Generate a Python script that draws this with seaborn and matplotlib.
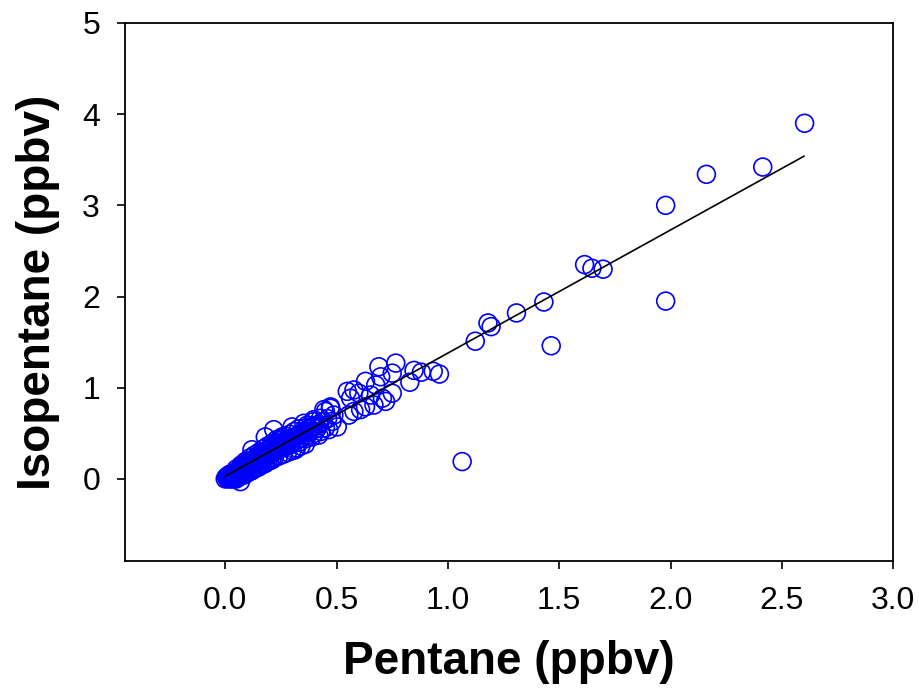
import matplotlib
matplotlib.use("Agg")
import matplotlib.pyplot as plt
import seaborn as sns
import numpy as np
import pandas as pd

# ---- data ----
pentane = [
    0.00, 0.005, 0.01, 0.01, 0.015, 0.02, 0.02, 0.025, 0.03, 0.03, 0.035, 0.04, 0.04, 0.045,
    0.05, 0.05, 0.055, 0.06, 0.06, 0.065, 0.068, 0.07, 0.07, 0.075, 0.08, 0.08, 0.085, 0.09,
    0.09, 0.095, 0.10, 0.10, 0.105, 0.11, 0.11, 0.115, 0.12, 0.12, 0.125, 0.13, 0.13, 0.135,
    0.14, 0.14, 0.145, 0.15, 0.15, 0.155, 0.16, 0.16, 0.165, 0.17, 0.17, 0.175, 0.18, 0.18,
    0.185, 0.19, 0.19, 0.20, 0.20, 0.205, 0.21, 0.21, 0.218, 0.22, 0.22, 0.225, 0.23, 0.23,
    0.235, 0.24, 0.24, 0.245, 0.25, 0.255, 0.26, 0.26, 0.27, 0.27, 0.28, 0.28, 0.29, 0.29,
    0.30, 0.30, 0.31, 0.315, 0.32, 0.33, 0.33, 0.34, 0.35, 0.353, 0.353, 0.36, 0.368, 0.37,
    0.38, 0.39, 0.398, 0.398, 0.40, 0.41, 0.413, 0.42, 0.428, 0.43, 0.443, 0.45, 0.45, 0.465,
    0.473, 0.473, 0.48, 0.488, 0.503,
    0.03, 0.04, 0.05, 0.06, 0.07, 0.08, 0.09, 0.10, 0.11, 0.12, 0.13, 0.14, 0.15, 0.16,
    0.17, 0.18, 0.19, 0.20, 0.21, 0.22, 0.24, 0.26, 0.28, 0.30, 0.32, 0.34, 0.36,
    0.05, 0.07, 0.09, 0.11, 0.13, 0.15, 0.17, 0.19, 0.21, 0.23, 0.25, 0.27, 0.29, 0.31,
    0.33, 0.36, 0.39,
    0.02, 0.04, 0.06, 0.08, 0.10, 0.12, 0.14, 0.16, 0.18, 0.20, 0.22, 0.24, 0.26, 0.28,
    0.30, 0.32, 0.34, 0.36, 0.38, 0.40, 0.42, 0.44, 0.46,
    0.548, 0.555, 0.563, 0.578, 0.578, 0.60, 0.608, 0.63, 0.63, 0.653, 0.668, 0.676, 0.69,
    0.698, 0.706, 0.72, 0.75, 0.75, 0.766, 0.829, 0.848, 0.881, 0.934, 0.962,
    1.064, 1.123, 1.18, 1.194, 1.308, 1.431, 1.464, 1.614, 1.647, 1.697, 1.978, 1.978,
    2.161, 2.414, 2.602,
]
isopentane = [
    0.00, 0.02, 0.00, 0.03, 0.01, 0.02, 0.05, 0.00, 0.03, 0.06, 0.02, 0.04, 0.07, 0.05,
    0.03, 0.08, 0.06, 0.05, 0.10, 0.08, -0.03, 0.06, 0.12, 0.09, 0.10, 0.14, 0.12, 0.10,
    0.16, 0.13, 0.12, 0.17, 0.15, 0.14, 0.20, 0.17, 0.15, 0.32, 0.18, 0.17, 0.22, 0.20,
    0.18, 0.24, 0.21, 0.20, 0.26, 0.23, 0.21, 0.28, 0.25, 0.22, 0.30, 0.26, 0.24, 0.46,
    0.28, 0.25, 0.32, 0.27, 0.34, 0.30, 0.28, 0.36, 0.54, 0.30, 0.38, 0.33, 0.31, 0.40,
    0.35, 0.33, 0.42, 0.37, 0.35, 0.46, 0.38, 0.34, 0.40, 0.36, 0.42, 0.38, 0.44, 0.37,
    0.57, 0.40, 0.45, 0.32, 0.42, 0.48, 0.40, 0.45, 0.50, 0.61, 0.52, 0.44, 0.59, 0.48,
    0.52, 0.46, 0.63, 0.65, 0.50, 0.55, 0.555, 0.48, 0.665, 0.52, 0.76, 0.74, 0.56, 0.54,
    0.775, 0.79, 0.63, 0.70, 0.57,
    0.00, 0.01, 0.00, 0.02, 0.03, 0.04, 0.05, 0.07, 0.08, 0.09, 0.11, 0.12, 0.13, 0.15,
    0.16, 0.17, 0.19, 0.20, 0.21, 0.23, 0.25, 0.27, 0.29, 0.31, 0.34, 0.36, 0.38,
    0.11, 0.15, 0.19, 0.23, 0.26, 0.29, 0.33, 0.36, 0.39, 0.43, 0.44, 0.47, 0.49, 0.52,
    0.55, 0.56, 0.58,
    0.03, 0.06, 0.08, 0.11, 0.14, 0.17, 0.20, 0.23, 0.26, 0.29, 0.33, 0.36, 0.40, 0.43,
    0.45, 0.47, 0.50, 0.53, 0.55, 0.58, 0.60, 0.63, 0.66,
    0.96, 0.70, 0.885, 0.975, 0.74, 0.94, 0.76, 1.07, 0.79, 0.92, 0.81, 1.03, 1.23,
    1.12, 0.885, 0.85, 1.16, 0.94, 1.27, 1.06, 1.19, 1.17, 1.18, 1.15,
    0.19, 1.51, 1.71, 1.67, 1.82, 1.94, 1.46, 2.35, 2.31, 2.30, 3.00, 1.95,
    3.34, 3.42, 3.90,
]
fit_x_range = [0.0, 2.6]
fit_slope = 1.35
fit_intercept = 0.03

x_ticks = [0.0, 0.5, 1.0, 1.5, 2.0, 2.5, 3.0]
x_tick_labels = ["0.0", "0.5", "1.0", "1.5", "2.0", "2.5", "3.0"]
y_ticks = [0, 1, 2, 3, 4, 5]
y_tick_labels = ["0", "1", "2", "3", "4", "5"]

# ---- plotting ----
sns.set_style("white")
plt.rcParams["font.family"] = ["Liberation Sans", "DejaVu Sans"]
plt.rcParams["text.color"] = "black"
plt.rcParams["axes.labelcolor"] = "black"

fig = plt.figure(figsize=(9.2, 6.96), dpi=100)
ax = fig.add_axes([0.1359, 0.194, 0.835, 0.773])

df = pd.DataFrame({"Pentane": pentane, "Isopentane": isopentane})
sns.scatterplot(data=df, x="Pentane", y="Isopentane", ax=ax, marker="o", s=165,
                color="blue", legend=False)
coll = ax.collections[0]
coll.set_facecolor("none")
coll.set_edgecolor((0, 0, 1))
coll.set_linewidth(1.2)

fx = np.array(fit_x_range)
fit_df = pd.DataFrame({"x": fx, "y": fit_intercept + fit_slope * fx})
sns.lineplot(data=fit_df, x="x", y="y", ax=ax, color="black", linewidth=1.2)

ax.set_xlim(-0.45, 3.0)
ax.set_ylim(-0.9, 5.0)
ax.set_xticks(x_ticks)
ax.set_xticklabels(x_tick_labels)
ax.set_yticks(y_ticks)
ax.set_yticklabels(y_tick_labels)
ax.tick_params(axis="both", which="both", direction="out", length=6, width=1.2,
               labelsize=23, pad=12, bottom=True, left=True, top=False, right=False,
               colors="black")
for sp in ax.spines.values():
    sp.set_visible(True)
    sp.set_color("black")
    sp.set_linewidth(1.3)

ax.set_xlabel("Pentane (ppbv)", fontsize=33, fontweight="bold", labelpad=17, color="black")
ax.set_ylabel("Isopentane (ppbv)", fontsize=33, fontweight="bold", labelpad=16, color="black")

fig.savefig("out.png", dpi=100)
